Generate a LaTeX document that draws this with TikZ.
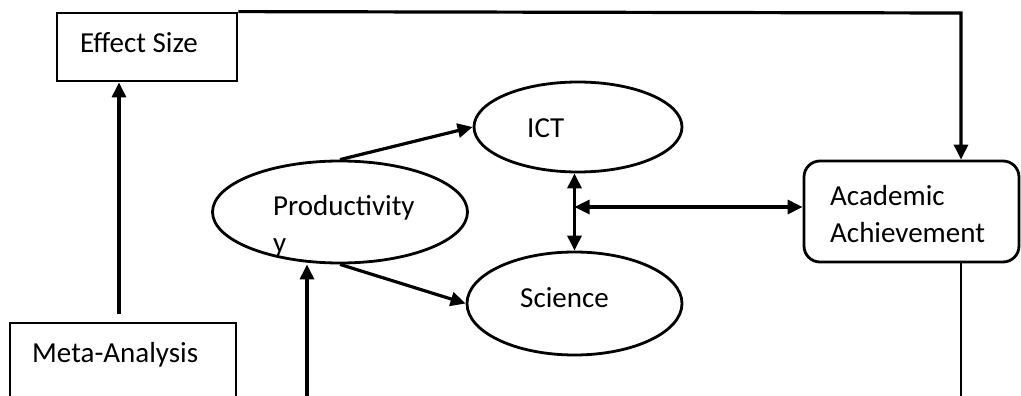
\documentclass[tikz,border=0pt]{standalone}
\usepackage{fontspec}
\setmainfont{Carlito}
\usetikzlibrary{arrows.meta, shapes.geometric}

\tikzset{
    txt/.style={inner sep=0pt, anchor=base west, align=left,
        font=\fontsize{29}{37}\selectfont},
    oval/.style={draw, ellipse, line width=2.8pt, inner sep=0pt},
    flowbox/.style={draw, rectangle, line width=2.8pt, inner sep=0pt},
    link/.style={line width=3.2pt, -{Triangle[length=15pt, width=14pt]}},
    duallink/.style={line width=3.2pt,
        {Triangle[length=15pt, width=14pt]}-{Triangle[length=15pt, width=14pt]}},
}

\begin{document}
\begin{tikzpicture}[x=1pt, y=-1pt]

    % Page frame
    \useasboundingbox (0,0) rectangle (1021,396);
    \clip (0,0) rectangle (1021,396);

    % Boxes
    \node[flowbox, minimum width=180, minimum height=68] (eff) at (147,47) {};
    \node[flowbox, minimum width=226, minimum height=140] (meta) at (123,393) {};
    \node[flowbox, rounded corners=16pt, minimum width=215, minimum height=101]
        (acad) at (911.5,211.5) {};

    % Ovals
    \node[oval, minimum width=255, minimum height=102] (prod) at (340,212) {};
    \node[oval, minimum width=208, minimum height=90] (ict) at (578,127) {};
    \node[oval, minimum width=215, minimum height=103] (sci) at (574.5,303.5) {};

    % Labels (two-line labels sit on their last baseline)
    \node[txt] (efftxt)  at (80,53)   {Effect Size};
    \node[txt] (metatxt) at (32,362)  {Meta-Analysis};
    \node[txt] (icttxt)  at (527,137) {ICT};
    \node[txt] (scitxt)  at (520,307) {Science};
    \node[txt] (prodtxt) at (273,252) {Productivity\\y};
    \node[txt] (acadtxt) at (830,242) {Academic\\Achievement};

    % Helper points
    \coordinate (corner) at (961,13);
    \coordinate (mtop)   at (119,314);
    \coordinate (pfoot)  at (307,396);
    \coordinate (afoot)  at (961,396);
    \coordinate (hub)    at (574.5,207);

    % Meta-Analysis to Effect Size
    \draw[link] (mtop) -- (mtop |- eff.south);

    % Effect Size over the top to Academic Achievement
    \draw[link] (eff.north east) -- (corner) -- (corner |- acad.north);

    % Productivity to ICT and Science
    \draw[link] (prod.north) -- (ict.west);
    \draw[link] (prod.south) -- (sci.west);
    \draw[link] (pfoot) -- (pfoot |- prod.south);

    % ICT, Science and Academic Achievement
    \draw[duallink] (ict.south -| sci.north) -- (sci.north);
    \draw[duallink] (hub) -- (hub -| acad.west);

    % Line leaving Academic Achievement
    \draw[line width=2.6pt] (afoot |- acad.south) -- (afoot);

\end{tikzpicture}
\end{document}
